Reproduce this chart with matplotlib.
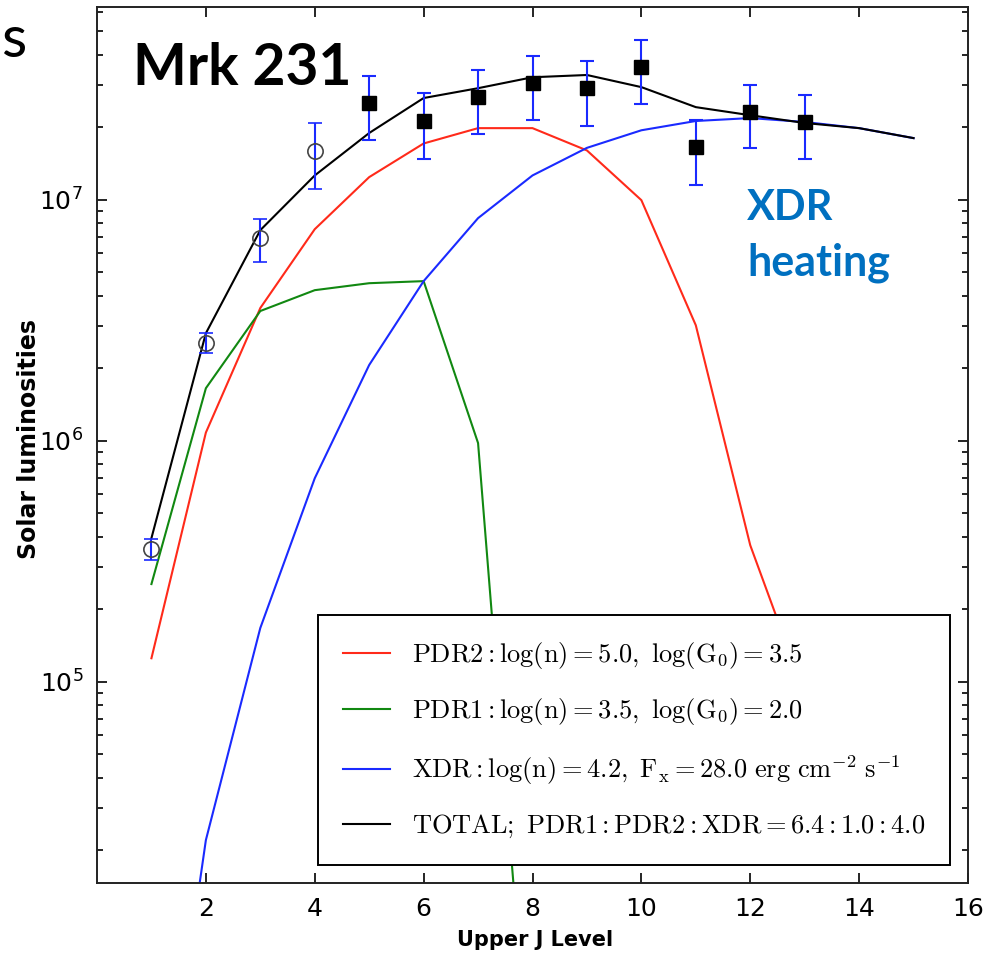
import matplotlib
matplotlib.use("Agg")
import matplotlib.pyplot as plt
from matplotlib.ticker import FixedLocator, LogLocator, NullFormatter

# ---------------- data ----------------
J_model = [1, 2, 3, 4, 5, 6, 7, 8, 9, 10, 11, 12, 13, 14, 15]
total = [3.94e5, 2.79e6, 7.47e6, 1.26e7, 1.89e7, 2.64e7, 2.90e7, 3.22e7,
         3.29e7, 2.93e7, 2.42e7, 2.24e7, 2.08e7, 1.98e7, 1.80e7]
J_pdr2 = [1, 2, 3, 4, 5, 6, 7, 8, 9, 10, 11, 12, 13]
pdr2 = [1.25e5, 1.08e6, 3.55e6, 7.54e6, 1.24e7, 1.71e7, 1.98e7, 1.98e7,
        1.60e7, 9.95e6, 3.01e6, 3.68e5, 8.9e4]
J_pdr1 = [1, 2, 3, 4, 5, 6, 7, 8]
pdr1 = [2.54e5, 1.65e6, 3.45e6, 4.21e6, 4.50e6, 4.59e6, 9.77e5, 1.5e3]
xdr = [6.0e2, 2.2e4, 1.67e5, 6.98e5, 2.06e6, 4.59e6, 8.38e6, 1.26e7,
       1.64e7, 1.94e7, 2.12e7, 2.18e7, 2.10e7, 1.98e7, 1.80e7]

J_open = [1, 2, 3, 4]
obs_open = [3.55e5, 2.55e6, 6.92e6, 1.59e7]
err_open = [0.36e5, 0.24e6, 1.40e6, 0.48e7]
J_filled = [5, 6, 7, 8, 9, 10, 11, 12, 13]
obs_filled = [2.51e7, 2.12e7, 2.66e7, 3.04e7, 2.90e7, 3.55e7, 1.65e7, 2.31e7, 2.10e7]
err_filled = [0.74e7, 0.65e7, 0.78e7, 0.89e7, 0.87e7, 1.06e7, 0.50e7, 0.68e7, 0.63e7]

labels = [r'$\mathrm{PDR2: log(n) = 5.0,\ log(G_0) = 3.5}$',
          r'$\mathrm{PDR1: log(n) = 3.5,\ log(G_0) = 2.0}$',
          r'$\mathrm{XDR: log(n) = 4.2,\ F_x = 28.0\ erg\ cm^{-2}\ s^{-1}}$',
          r'$\mathrm{TOTAL;\ PDR1:PDR2:XDR = 6.4:1.0:4.0}$']
xticks = [2, 4, 6, 8, 10, 12, 14, 16]

# ---------------- figure ----------------
plt.rcParams['mathtext.fontset'] = 'cm'
tickfont = ['DejaVu Sans']

fig = plt.figure(figsize=(9.92, 9.63), dpi=100)
ax = fig.add_axes([97/992, 1-883/963, 871/992, 876/963])

lw = 1.5
ax.plot(J_pdr2, pdr2, color='#ff2a1a', lw=lw, label=labels[0], zorder=2)
ax.plot(J_pdr1, pdr1, color='#118811', lw=lw, label=labels[1], zorder=2)
ax.plot(J_model, xdr, color='#1a2aff', lw=lw, label=labels[2], zorder=2)
ax.plot(J_model, total, color='black', lw=lw, label=labels[3], zorder=2)

ax.errorbar(J_open, obs_open, yerr=err_open, fmt='o', ms=11, mfc='none',
            mec='#444444', mew=1.2, ecolor='#1a2aff', elinewidth=1.5,
            capsize=5, capthick=1.5, zorder=3)
ax.errorbar(J_filled, obs_filled, yerr=err_filled, fmt='s', ms=10, mfc='black',
            mec='black', ecolor='#1a2aff', elinewidth=1.5,
            capsize=5, capthick=1.5, zorder=3)

ax.set_yscale('log')
ax.set_xlim(0, 16)
ax.set_ylim(1.46e4, 6.3e7)
ax.xaxis.set_major_locator(FixedLocator(xticks))
ax.yaxis.set_major_locator(LogLocator(base=10, numticks=20))
ax.yaxis.set_minor_locator(LogLocator(base=10, subs=range(2, 10), numticks=50))
ax.yaxis.set_minor_formatter(NullFormatter())

ax.tick_params(which='both', direction='in', top=True, right=True, width=1.2)
ax.tick_params(which='major', length=7, pad=10)
ax.tick_params(which='minor', length=4)
for lab in ax.get_xticklabels() + ax.get_yticklabels():
    lab.set_family(tickfont)
    lab.set_fontsize(18)
for s in ax.spines.values():
    s.set_linewidth(1.4)
    s.set_color('#222222')

ax.set_xlabel('Upper J Level', family=tickfont, fontweight='bold', fontsize=15)
ax.set_ylabel('Solar luminosities', family=tickfont, fontweight='bold', fontsize=17)
ax.xaxis.set_label_coords(0.503, -0.054)
ax.yaxis.set_label_coords(-0.064, 0.507)

leg = ax.legend(loc='lower right', bbox_to_anchor=(0.9793, 0.0205),
                borderaxespad=0, fontsize=19, frameon=True, fancybox=False,
                framealpha=1, edgecolor='black', handlelength=1.8,
                handletextpad=0.8, labelspacing=0.97, borderpad=0.95)
leg.get_frame().set_linewidth(1.4)
leg.set_zorder(5)

fig.text(133/992, 1-85/963, 'Mrk 231', family=['Lato', 'DejaVu Sans'],
         fontweight='bold', fontsize=41, va='baseline', ha='left')
fig.text(1/992, 1-57/963, 's', family=['Lato', 'DejaVu Sans'],
         fontsize=42, va='baseline', ha='left')
fig.text(747/992, 1-220/963, 'XDR', family=['Lato', 'DejaVu Sans'],
         fontweight='bold', fontsize=30, color='#0070C0', va='baseline', ha='left')
fig.text(747/992, 1-275/963, 'heating', family=['Lato', 'DejaVu Sans'],
         fontweight='bold', fontsize=31, color='#0070C0', va='baseline', ha='left')

fig.savefig('out.png', dpi=100)
